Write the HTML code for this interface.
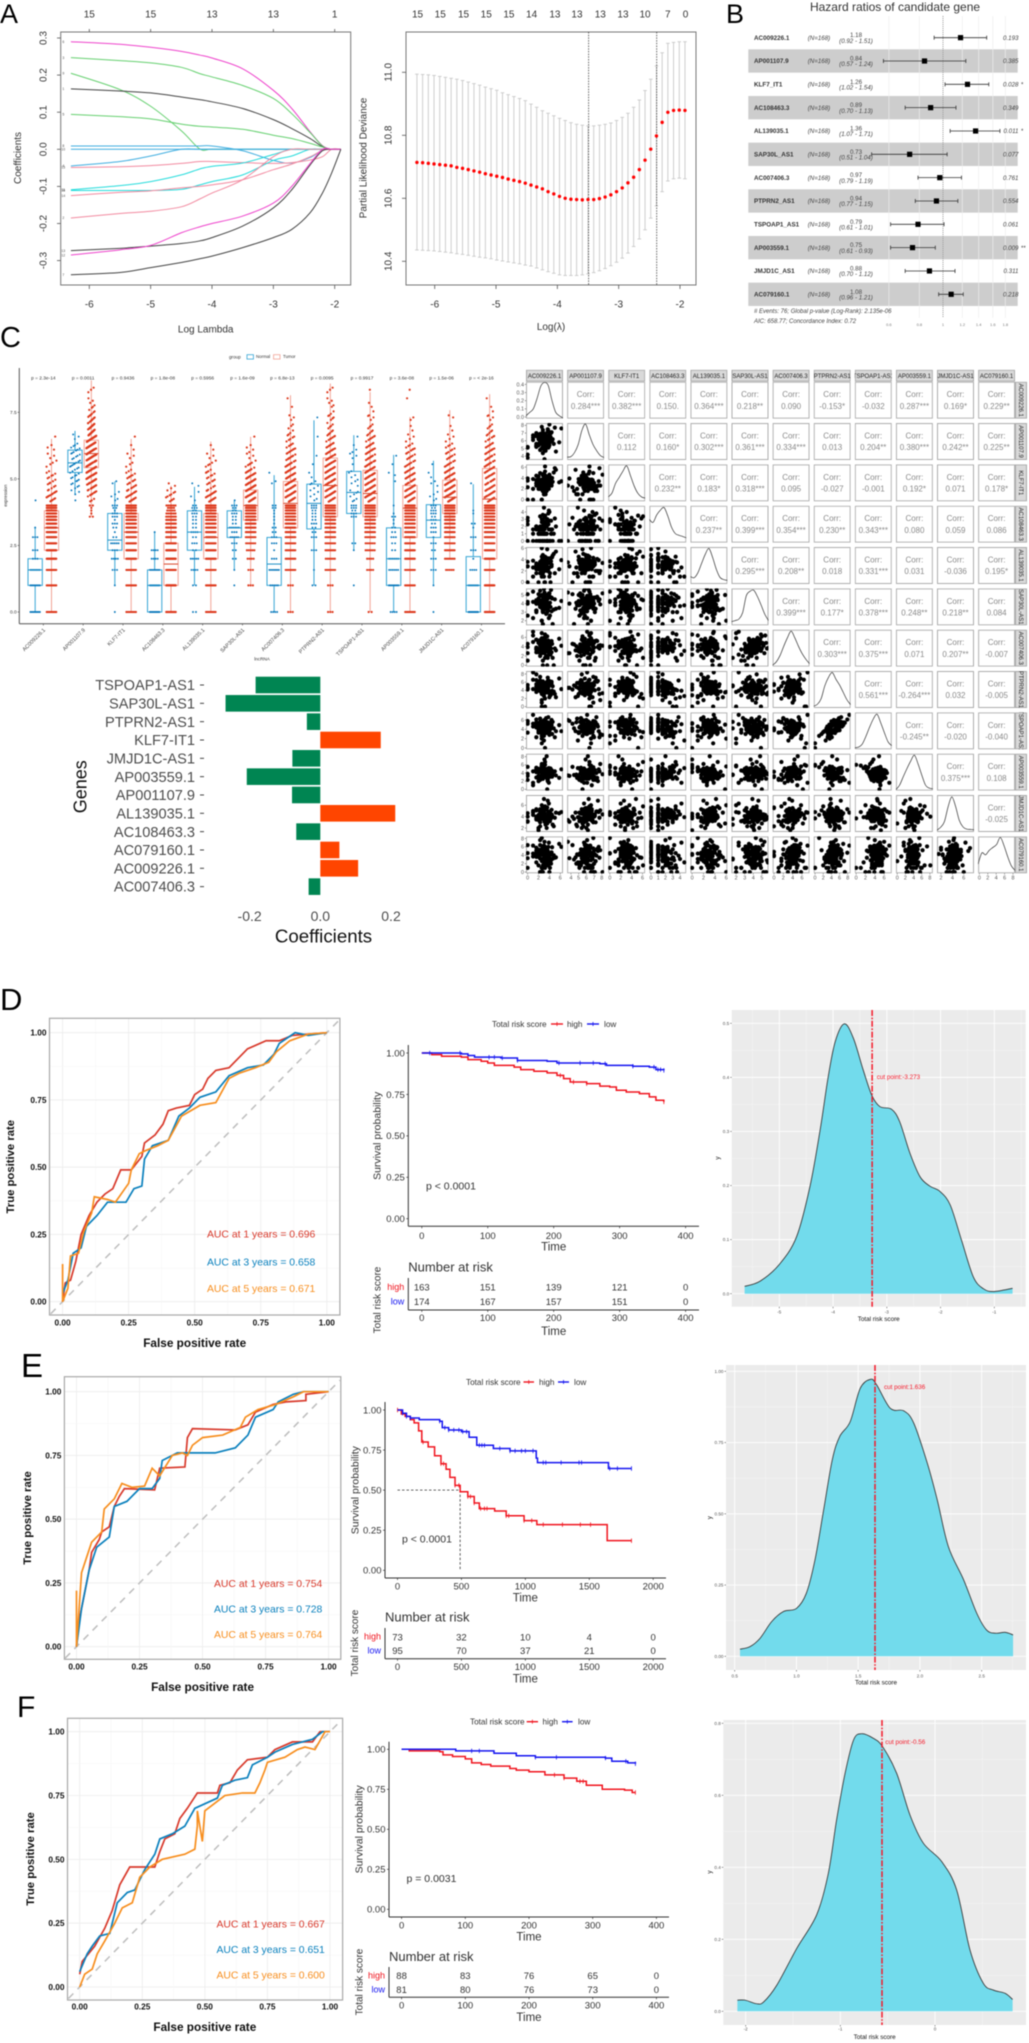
<!DOCTYPE html>
<html lang="en">
<head>
<meta charset="utf-8">
<title>Multi-panel lncRNA risk model figure</title>
<style>
html,body{margin:0;padding:0;background:#fff}
#figure{display:block;filter:blur(.45px);font-family:"Liberation Sans",sans-serif}
</style>
</head>
<body>
<svg id="figure" width="1029" height="2043" viewBox="0 0 1029 2043"></svg>
<script>
/* ---------- Panel A: lasso paths ---------- */
const lassoLambda=[-6.3,-5.5,-5,-4.5,-4.2,-4,-3.5,-3,-2.7,-2.4,-2.2,-2.05,-1.9];
const lassoIds=['6','3','9','1','5','8','10','4','15','11','16','14','2','13','12','7'];
const lassoColors=['#ee44cc','#66d070','#66d070','#444','#66d070','#40aee0','#40aee0','#40aee0','#f28aa0','#25dcdc','#25dcdc','#f28aa0','#f28aa0','#444','#ee44cc','#444'];
const lassoCoefs=[
[.29,.283,.275,.264,.254,.246,.217,.159,.11,.047,.01,0,0],
[.247,.239,.233,.221,.204,.195,.172,.137,.096,.045,.009,0,0],
[.205,.161,.116,.05,.001,0,0,0,0,0,0,0,0],
[.163,.157,.152,.141,.134,.128,.11,.08,.056,.029,.007,0,0],
[.094,.088,.082,.068,.062,.06,.054,.038,.029,.016,.006,0,0],
[.009,.009,.009,.009,.009,.009,-.004,-.03,-.037,-.022,-.002,0,0],
[0,0,0,0,0,0,0,0,0,0,0,0,0],
[-.045,-.033,-.018,0,0,0,0,0,0,0,0,0,0],
[-.049,-.047,-.044,-.038,-.033,-.033,-.036,-.038,-.036,-.029,-.02,0,0],
[-.109,-.098,-.087,-.069,-.053,-.046,-.037,-.014,0,0,0,0,0],
[-.111,-.111,-.111,-.108,-.096,-.087,-.069,-.03,-.018,0,0,0,0],
[-.125,-.116,-.112,-.104,-.1,-.096,-.082,-.055,-.04,-.02,-.003,0,0],
[-.185,-.173,-.167,-.155,-.134,-.118,-.082,-.02,0,0,0,0,0],
[-.273,-.267,-.261,-.254,-.247,-.238,-.207,-.158,-.109,-.042,-.004,0,0],
[-.285,-.271,-.259,-.225,-.209,-.2,-.18,-.145,-.1,-.038,0,0,0],
[-.338,-.332,-.319,-.305,-.295,-.288,-.265,-.238,-.216,-.171,-.118,-.064,0]];
const lassoTopLambda=[-6,-5,-4,-3,-2];
const lassoTopCounts=['15','15','13','13','1'];
const lassoXTicks=[-6,-5,-4,-3,-2];
const lassoYTicks=[-.3,-.2,-.1,0,.1,.2,.3];

/* ---------- Panel A: cross-validation ---------- */
const cvStart=-6.29, cvStep=0.093;
const cvMean=[10.714,10.713,10.711,10.709,10.707,10.705,10.703,10.698,10.695,10.691,10.687,10.683,10.678,10.674,10.670,10.666,10.661,10.657,10.653,10.648,10.642,10.636,10.630,10.621,10.614,10.606,10.600,10.597,10.596,10.595,10.596,10.596,10.599,10.604,10.611,10.621,10.633,10.649,10.667,10.691,10.721,10.756,10.798,10.841,10.873,10.879,10.880,10.879];
const cvUpper=[10.994,10.993,10.992,10.990,10.987,10.984,10.981,10.978,10.974,10.969,10.964,10.959,10.953,10.948,10.943,10.935,10.929,10.923,10.917,10.910,10.899,10.889,10.878,10.870,10.862,10.854,10.847,10.840,10.835,10.832,10.830,10.830,10.832,10.835,10.839,10.847,10.857,10.870,10.889,10.912,10.942,10.978,11.020,11.062,11.092,11.095,11.097,11.097];
const cvLower=[10.436,10.435,10.434,10.433,10.431,10.429,10.427,10.424,10.422,10.419,10.416,10.413,10.411,10.408,10.404,10.401,10.398,10.395,10.392,10.388,10.385,10.379,10.373,10.367,10.362,10.357,10.355,10.355,10.355,10.357,10.360,10.364,10.370,10.377,10.386,10.397,10.410,10.426,10.447,10.471,10.500,10.537,10.576,10.621,10.655,10.662,10.664,10.662];
const cvTopLambda=[-6.28,-5.91,-5.53,-5.16,-4.79,-4.42,-4.04,-3.68,-3.3,-2.93,-2.57,-2.2,-1.91];
const cvTopCounts=['15','15','15','15','15','14','13','13','13','13','10','7','0'];
const cvVLines=[-3.49,-2.38];
const cvXTicks=[-6,-5,-4,-3,-2];
const cvYTicks=[10.4,10.6,10.8,11.0];

/* ---------- Panel B: forest plot ---------- */
const forestGenes=['AC009226.1','AP001107.9','KLF7_IT1','AC108463.3','AL139035.1','SAP30L_AS1','AC007406.3','PTPRN2_AS1','TSPOAP1_AS1','AP003559.1','JMJD1C_AS1','AC079160.1'];
const forestHR=[1.18,0.84,1.26,0.89,1.36,0.73,0.97,0.94,0.79,0.75,0.88,1.08];
const forestLo=[0.92,0.57,1.02,0.70,1.07,0.51,0.79,0.77,0.61,0.61,0.70,0.96];
const forestHi=[1.51,1.24,1.54,1.13,1.71,1.04,1.19,1.15,1.01,0.93,1.12,1.21];
const forestP=['0.193','0.385','0.028','0.349','0.011','0.077','0.761','0.554','0.061','0.009','0.311','0.218'];
const forestSig=['','','*','','*','','','','','**','',''];
const forestTicks=[0.6,0.8,1,1.2,1.4,1.6,1.8];

/* ---------- Panel C: boxplots ---------- */
const boxGenes=['AC009226.1','AP001107.9','KLF7-IT1','AC108463.3','AL139035.1','SAP30L-AS1','AC007406.3','PTPRN2-AS1','TSPOAP1-AS1','AP003559.1','JMJD1C-AS1','AC079160.1'];
const boxPValues=['p = 2.3e-14','p = 0.0011','p = 0.9436','p = 1.8e-08','p = 0.5956','p = 1.6e-09','p = 6.8e-13','p = 0.0095','p = 0.9917','p = 3.6e-08','p = 1.5e-06','p = < 2e-16'];
const boxYTicks=[0,2.5,5,7.5];
const normalStats=[[0,1,1.58,2,3.2],[4.4,5.24,5.6,6.08,6.8],[1,2.32,2.7,3.7,4.9],[0,0,1,1.58,3],[1,2.32,3,3.8,4.7],[1.58,2.8,3.16,3.8,4.17],[0,1,1.8,2.8,5.14],[1,3.12,4.08,4.8,7.2],[2.33,3.7,4.49,5.28,6.64],[0,1,2,3.16,5.9],[1,2.8,3.45,4.03,5.68],[0,0,1,2.08,4.8]];
const tumorStats=[[0,2.32,3.16,3.8,6.5],[3.6,5.42,5.95,6.45,8.7],[0,2,3,3.7,6.5],[0,1,1.8,2.58,4.74],[0,2,2.8,3.7,6.4],[1,3.45,4,4.58,6.58],[0,3.16,4.08,4.9,8.14],[0,3.58,4.75,5.78,8.58],[0,3.58,4.45,5.32,8.26],[0,2.8,3.9,4.75,7.32],[2,3.7,4.31,4.95,7.58],[0,2,4.24,5.39,8.18]];
const exprLevels=[0,1,1.58,2,2.32,2.58,2.81,3,3.17,3.32,3.46,3.58,3.7,3.81,3.91,4,4.25,4.5,4.75,5,5.25,5.5,5.75,6,6.25,6.5,6.75,7,7.25,7.5,7.75,8,8.25,8.5];
const normalCounts=[
[8,8,8,3,3,0,3,0,1,0,0,0,0,0,0,0,1],
[0,0,0,0,0,0,0,0,0,0,0,0,0,0,0,0,1,3,5,6,5,8,6,6,5,2,1],
[1,1,3,4,3,5,2,1,2,3,1,3,3,1,2,3,3,2,1,1],
[10,10,8,4,4,0,0,1],
[2,2,4,5,2,3,2,4,2,2,2,2,3,2,3,2,2,1,2],
[0,1,1,2,2,3,5,3,6,2,2,2,3,2,2,3,1],
[4,5,7,3,1,3,3,2,2,1,1,1,1,1,2,2,0,0,1,1,1],
[0,2,1,0,3,0,3,2,2,3,2,2,2,2,3,3,3,3,4,2,1,1,1,0,0,1,0,0,1],
[0,1,0,0,1,2,0,0,0,0,0,3,3,2,3,3,4,4,2,3,3,1,2,3,1,1],
[4,8,6,6,2,2,3,2,2,1,1,2,1,0,0,1,0,0,0,1,2,1,1],
[1,1,3,3,2,3,1,3,3,2,3,2,3,3,2,3,3,2,2,2,1,1],
[12,8,4,1,3,0,3,0,1,2,0,0,1,1,0,0,0,0,1]];
const tumorCounts=[
[10,9,14,14,16,16,16,16,16,16,16,16,15,14,12,12,10,9,6,5,4,3,3,2,2,1],
[0,0,0,0,0,0,0,0,0,0,0,2,1,1,1,2,4,10,16,22,24,30,34,38,34,28,22,16,10,6,4,2,2,1],
[7,9,10,12,14,14,14,14,14,14,14,14,14,13,12,12,14,11,8,7,5,3,2,2,1,1],
[18,22,20,18,18,14,12,12,12,10,10,8,6,5,4,6,6,5,3],
[9,10,10,12,14,14,14,14,14,14,14,14,14,12,10,12,14,12,6,6,6,4,3,2,1],
[0,3,3,4,5,6,8,10,10,12,14,14,14,14,14,14,24,30,24,18,12,6,3,3,2,1],
[3,3,8,8,8,9,10,12,12,12,12,12,12,12,12,14,20,22,20,18,16,12,10,8,6,5,4,3,2,1,1,1],
[3,3,7,6,8,8,9,9,9,9,9,9,9,9,9,10,16,20,24,22,20,16,15,12,9,7,6,5,4,3,3,2,2,1],
[2,0,4,4,6,6,8,9,9,9,10,10,10,10,10,12,20,24,24,22,20,16,12,11,9,7,5,4,3,2,2,0,1],
[10,8,8,10,11,12,12,12,12,12,12,12,12,12,12,14,18,20,16,14,12,8,7,7,5,3,2,1,2,0,0,1,1],
[0,0,5,7,8,8,9,11,11,11,12,12,12,12,12,16,26,30,26,20,14,9,7,6,5,3,2,1,1,1],
[20,18,16,14,12,12,12,12,12,12,12,12,12,12,12,14,16,14,14,12,12,12,10,10,8,6,5,4,3,2,1,1]];

/* ---------- Panel C: coefficient bars ---------- */
const coefGenes=['TSPOAP1-AS1','SAP30L-AS1','PTPRN2-AS1','KLF7-IT1','JMJD1C-AS1','AP003559.1','AP001107.9','AL139035.1','AC108463.3','AC079160.1','AC009226.1','AC007406.3'];
const coefValues=[-.183,-.268,-.038,.171,-.079,-.208,-.08,.212,-.068,.054,.107,-.033];
const coefTicks=[-.2,0,.2];

/* ---------- Panel C: pairs matrix ---------- */
const pairsGenes=['AC009226.1','AP001107.9','KLF7-IT1','AC108463.3','AL139035.1','SAP30L-AS1','AC007406.3','PTPRN2-AS1','TSPOAP1-AS1','AP003559.1','JMJD1C-AS1','AC079160.1'];
const pairsRange=[[-.3,6.5],[3.5,8.3],[-.3,6.5],[-.23,4.87],[-.3,6.2],[1.46,5.78],[-.29,7.64],[-.33,8.73],[-.29,7.64],[-.33,8.73],[1.3,7.8],[-.3,8.5]];
const pairsTicks=[[0,2,4,6],[4,5,6,7,8],[0,2,4,6],[0,1,2,3,4],[0,2,4,6],[2,3,4,5],[0,2,4,6],[0,2,4,6,8],[0,2,4,6],[0,2,4,6,8],[2,4,6],[0,2,4,6,8]];
const densityAxisTicks=[0,.1,.2,.3,.4];
const pairsDensity=[
[.08,.17,.27,.55,.88,.98,.9,.5,.18,.08,.02],
[.08,.09,.2,.42,.8,.97,.68,.42,.25,.12,.07],
[.12,.22,.49,.65,.82,.96,.7,.42,.22,.12,.09],
[.63,.55,.75,.88,.95,.72,.42,.25,.2,.17,.13],
[.2,.17,.3,.55,.8,.96,.72,.4,.18,.12,.1],
[.1,.13,.17,.34,.8,.92,.95,.78,.55,.3,.13],
[.04,.13,.3,.55,.78,.96,.78,.55,.35,.2,.08],
[.05,.1,.25,.6,.83,.96,.78,.62,.42,.22,.09],
[.04,.06,.14,.35,.6,.82,.95,.72,.45,.2,.1],
[.03,.15,.38,.6,.8,.96,.72,.42,.15,.07,.05],
[.05,.13,.28,.68,.95,.7,.32,.14,.08,.07,.06],
[.25,.55,.5,.62,.7,.78,.97,.75,.45,.2,.08]];
const pairsCorr=[
['0.284***','0.382***','0.150.','0.364***','0.218**','0.090','-0.153*','-0.032','0.287***','0.169*','0.229**'],
['0.112','0.160*','0.302***','0.361***','0.334***','0.013','0.204**','0.380***','0.242**','0.225**'],
['0.232**','0.183*','0.318***','0.095','-0.027','-0.001','0.192*','0.071','0.178*'],
['0.237**','0.399***','0.354***','0.230**','0.343***','0.080','0.059','0.086'],
['0.295***','0.208**','0.018','0.331***','0.031','-0.036','0.195*'],
['0.399***','0.177*','0.378***','0.248**','0.218**','0.084'],
['0.303***','0.375***','0.071','0.207**','-0.007'],
['0.561***','-0.264***','0.032','-0.005'],
['-0.245**','-0.020','-0.040'],
['0.375***','0.108'],
['-0.025']];
const pairsSamples=[
[3.2,1.6,2.8,4.1,3.6,0,2.3,3.0,4.6,2.6,3.3,1,3.9,2.0,5.2,3.5,2.8,1.6,4.3,3.1,0,2.6,3.7,4.8,2.3,3.0,1,3.4,4.0,2.0,5.8,3.2,2.8,1.6,3.6,4.4,2.6,0,3.8,3.0,2.3,4.2,3.3,1,5.0,2.8,3.5,2.0,4.0,3.1,2.6,0,3.7,4.5,1.6,3.2,2.3,6.2,3.0,2.8,
 3.0,2.6,3.4,2.3,3.8,2.8,3.2,2.0,3.6,4.1,2.6,3.0,3.3,2.3,4.3,2.8,3.5,1.6,3.1,3.9,2.6,3.2,2.0,3.7,3.0,2.8,4.0,2.3,3.4,2.6,3.1,3.8,2.0,3.3,2.8,4.4,3.0,2.6,3.6,2.3,3.2,1.6,3.5,2.8,3.0],
[6.1,5.2,7.4,5.8,6.5,4.2,6.9,5.5,6.2,7.8,5.0,6.4,5.7,6.8,4.6,6.0,7.1,5.4,6.3,5.9,3.8,6.6,7.5,5.6,6.1,4.9,6.7,5.3,8.1,6.2,5.8,6.4,4.4,7.0,5.5,6.0,6.9,5.1,7.3,6.3,5.7,6.5,4.7,6.1,7.7,5.9,6.2,5.4,6.8,3.6,6.6,5.2,7.2,6.0,5.6,6.4,4.8,7.6,5.8,6.3,
 6.2,5.6,6.7,5.9,6.0,5.3,6.4,6.8,5.7,6.1,5.0,6.5,5.8,6.3,7.0,5.5,6.0,6.6,5.9,5.2,6.2,6.9,5.6,6.3,5.8,6.1,5.4,6.7,6.0,6.4,5.7,5.1,6.5,6.2,5.9,7.1,5.5,6.3,6.0,5.8,6.6,5.3,6.1,6.8,5.7],
[2.8,3.5,1.6,4.2,3.0,2.3,4.9,1,3.3,2.6,3.8,0,2.0,3.6,5.5,2.8,1.6,4.4,3.1,2.3,3.9,0,2.6,5.0,3.4,1,2.0,3.7,4.6,2.8,3.2,6.1,1.6,2.6,4.1,3.0,0,3.5,2.3,4.8,2.0,3.3,1,3.8,5.8,2.8,1.6,4.3,3.1,2.6,3.6,0,2.3,4.0,3.0,5.2,2.0,3.4,1.6,2.8,
 3.3,2.3,3.7,2.8,4.1,3.0,2.6,3.5,2.0,3.9,3.2,2.8,4.4,2.3,3.1,3.6,2.6,3.0,4.0,2.8,3.4,2.0,3.8,3.1,2.6,3.3,4.2,2.3,3.0,3.7,2.8,3.5,2.0,3.2,4.5,2.6,3.9,3.0,2.3,3.4,2.8,3.6,3.1,2.6,4.0],
[1,0,2,1.6,0,3.2,1,2.3,0,1.6,2.6,0,4.2,1,2,0,3.6,1.6,1,0,2.3,3,0,1,2,4.6,1.6,0,2.8,1,0,3.4,1.6,2,0,1,2.6,0,3.8,1,1.6,0,2.3,1,3.1,0,2,1.6,4,0,1,2.8,0,1.6,2,3.5,1,0,2.3,1.6,
 1,1.6,2,0,2.3,1,2.6,1.6,3,0,2,1,2.3,1.6,2.8,0,1,2,3.2,1.6,0,2.3,1,2.6,2,1.6,0,3.4,1,2,1.6,2.3,0,1,2.8,1.6,2,1,3,0,2.3,1.6,1,2.6,2],
[3.0,2.3,4.1,1.6,3.6,0,2.8,3.3,4.7,2,3.9,1,2.6,3.1,5.4,2.3,3.5,1.6,4.3,0,2.8,3.7,2,5.0,3.2,1,2.6,4.0,3.4,0,2.3,4.5,1.6,3.0,5.8,2.8,1,3.6,2,4.2,3.3,0,2.6,3.8,1.6,4.8,3.1,2.3,1,3.5,6.0,2.8,2,4.4,3.0,0,1.6,3.9,2.6,3.2,
 2.8,3.6,2.3,3.2,4.2,2.6,3.9,3.0,2,3.4,4.5,2.8,3.1,2.3,3.7,4.0,2.6,3.3,2,3.5,2.8,4.3,3.0,2.3,3.8,3.2,2.6,3.6,4.1,2.8,2,3.4,3.0,4.4,2.6,3.1,2.3,3.9,3.3,2.8,3.7,2.6,4.0,3.0,2.3],
[4.2,3.2,4.8,2.6,4.0,5.1,3.6,4.5,1.6,3.9,4.3,5.4,2.3,4.1,3.4,4.7,3.0,4.4,5.6,3.7,4.0,2,4.6,3.3,4.9,3.8,4.2,2.8,5.2,4.1,3.5,4.4,1.6,4.0,5.0,3.1,4.3,2.6,4.7,3.9,5.5,3.6,4.1,2.3,4.5,3.2,4.8,4.0,3.7,5.3,2,4.2,3.4,4.6,3.0,4.9,3.8,4.3,5.7,3.5,
 4.0,3.5,4.6,4.2,3.2,4.8,3.8,4.4,3.0,4.1,5.0,3.6,4.3,3.9,4.7,3.3,4.5,4.0,3.7,5.2,4.2,3.4,4.6,3.9,4.1,3.1,4.9,4.3,3.6,4.0,4.5,3.8,5.1,3.5,4.2,4.7,3.3,4.4,4.0,3.7,4.8,3.2,4.3,3.9,4.6],
[4.1,2.8,5.2,3.4,0,4.6,3.0,5.9,1.6,4.3,3.7,6.4,2.3,4.9,3.2,4.0,1,5.5,3.6,4.4,2.6,6.9,3.9,0,4.7,3.1,5.0,2,4.2,3.5,5.7,1.6,4.5,3.8,6.2,2.8,4.0,1,5.3,3.3,4.8,2.3,4.1,7.2,3.6,0,5.1,3.0,4.3,2.6,5.8,3.9,1.6,4.6,3.4,6.6,2,4.2,3.7,5.4,
 3.8,4.4,3.2,4.9,4.1,3.5,5.3,2.8,4.6,4.0,3.6,5.0,3.3,4.3,4.8,3.0,4.2,5.5,3.7,4.5,2.6,4.0,5.1,3.4,4.7,3.9,3.1,5.4,4.2,3.6,4.4,2.9,4.8,4.1,3.3,5.2,3.8,4.6,3.0,4.3,5.6,3.5,4.0,4.9,3.7],
[4.8,3.6,6.1,2.8,5.3,4.2,7.3,3.2,5.0,1.6,4.5,6.6,3.9,5.6,2.3,4.9,4.0,7.9,3.0,5.4,4.6,0,6.3,3.7,5.1,2.6,4.3,5.9,3.3,4.7,6.9,2,5.2,4.1,3.5,5.7,1,4.4,6.4,3.8,5.0,2.8,4.8,8.4,3.1,5.5,4.2,6.0,2.3,4.6,3.6,5.3,7.1,3.9,4.9,0,5.8,4.3,3.4,5.1,
 5.0,4.3,5.6,3.8,4.7,6.2,3.4,5.2,4.5,5.8,3.1,4.9,4.1,6.4,5.3,3.6,4.6,5.5,4.0,6.0,3.3,5.1,4.4,5.7,4.8,3.7,6.3,4.2,5.4,3.5,4.7,5.9,4.0,5.2,3.2,6.1,4.5,5.0,3.9,5.6,4.3,6.5,3.6,4.9,5.3],
[4.0,4.4,5.0,3.9,3.8,5.2,5.4,2.6,5.6,3.0,3.4,4.6,5.1,4.0,3.6,3.2,5.7,6.1,4.6,3.7,5.8,1.0,4.6,4.2,4.0,1.6,5.2,6.4,2.8,5.3,4.9,3.4,4.2,2.3,5.0,6.0,2.6,3.3,6.6,4.5,3.9,4.2,5.5,7.1,2.3,4.1,4.9,3.8,3.6,6.0,2.0,5.6,5.5,3.0,5.5,0,6.3,3.6,4.4,4.3,
 4.8,3.4,5.0,4.2,3.9,5.5,3.8,4.3,4.9,5.2,3.2,3.9,4.7,5.6,4.2,4.4,3.6,5.3,3.1,4.6,4.0,5.8,3.7,4.5,5.1,3.0,5.4,4.8,4.1,3.9,5.0,4.4,3.3,5.7,3.7,4.9,5.2,4.0,3.5,4.6,5.3,4.7,4.2,3.4,5.9],
[3.8,4.9,2.8,4.6,3.2,5.5,2.3,4.1,3.6,6.2,3.0,4.4,1.6,5.0,3.4,4.0,2.6,4.7,3.9,7.3,3.3,5.8,2.0,4.3,3.1,5.2,1,4.5,3.7,4.2,2.8,6.7,3.5,4.8,0,3.9,5.4,2.3,4.0,3.2,2.6,5.1,3.6,1.6,4.4,3.0,8.1,2.0,4.6,3.4,5.6,3.8,2.3,3.1,4.2,6.0,2.8,4.9,3.7,2.6,
 3.5,4.2,3.0,4.7,3.8,2.8,4.4,3.3,5.0,3.9,2.6,4.1,3.6,4.8,3.1,4.5,3.7,2.9,4.3,5.2,3.4,4.0,2.7,4.6,3.2,3.8,4.9,3.0,4.2,3.6,5.1,2.8,4.4,3.9,3.3,4.7,3.5,4.1,2.6,4.5,3.7,5.3,3.1,4.0,3.4],
[4.2,3.5,4.9,3.2,5.6,4.0,3.0,4.6,2.6,5.1,3.8,4.3,6.3,3.4,4.7,2.0,4.1,5.3,3.7,4.5,3.1,4.8,6.8,2.3,4.2,3.9,5.0,3.3,4.4,1.6,4.6,5.8,3.6,4.0,2.8,5.2,4.3,3.2,4.9,7.1,3.5,4.1,2.6,4.7,3.8,5.5,4.0,2.0,4.4,3.4,6.0,4.6,3.0,4.2,5.1,3.7,2.3,4.8,3.9,4.5,
 3.8,4.5,3.3,4.9,4.1,3.6,5.2,4.3,3.0,4.7,3.9,4.4,5.4,3.5,4.2,4.8,3.2,4.0,4.6,3.7,5.0,4.3,3.4,4.1,4.9,3.6,4.5,5.3,3.9,4.2,3.1,4.7,4.0,3.8,5.1,4.4,3.5,4.6,3.3,4.8,4.1,3.7,5.5,4.2,3.9],
[4.2,2.3,5.5,1,3.8,6.4,0,4.9,3.2,5.2,2,4.4,7.0,1.6,3.5,5.8,0,4.6,2.8,6.1,3.3,1,5.0,4.0,7.6,2.3,3.7,5.4,0,4.3,6.7,1.6,3.0,5.1,2.6,4.7,8.1,1,3.9,5.7,0,4.1,2.0,6.3,3.4,4.8,1.6,5.3,3.1,7.2,0,4.5,2.6,5.9,3.6,1,4.2,6.0,2.3,5.0,
 5.0,2.6,4.4,3.2,6.0,1.6,4.8,3.6,5.4,2.3,4.1,6.3,3.0,5.2,2,4.6,3.4,5.8,2.8,4.3,1,5.6,3.8,4.9,2.6,6.1,3.3,4.5,2.0,5.1,3.7,1.6,4.7,5.9,3.1,4.2,2.3,5.5,3.5,6.4,2.8,4.0,5.3,1,4.4]];

/* ---------- Panels D/E/F: ROC (fpr, tpr) ---------- */
const rocTicks=[0,.25,.5,.75,1];
const rocLabels=['0.00','0.25','0.50','0.75','1.00'];
const rocD1=[[0,0],[.01,.07],[.03,.08],[.05,.15],[.07,.25],[.1,.32],[.13,.37],[.16,.40],[.19,.42],[.22,.49],[.26,.49],[.3,.54],[.31,.59],[.35,.62],[.38,.66],[.4,.71],[.43,.72],[.48,.73],[.5,.77],[.53,.79],[.55,.83],[.58,.86],[.63,.87],[.67,.91],[.7,.94],[.77,.97],[.82,.97],[.87,.99],[1,1]];
const rocD3=[[0,.03],[.02,.08],[.04,.18],[.07,.2],[.09,.28],[.13,.32],[.17,.37],[.24,.37],[.27,.42],[.3,.43],[.31,.53],[.34,.58],[.4,.6],[.44,.69],[.48,.72],[.52,.76],[.58,.78],[.63,.84],[.7,.87],[.76,.88],[.8,.92],[.82,.96],[.88,1],[.93,.99],[1,1]];
const rocD5=[[0,.14],[0,0],[.02,.05],[.03,.17],[.06,.18],[.08,.26],[.11,.33],[.12,.39],[.17,.38],[.2,.37],[.25,.44],[.26,.49],[.29,.55],[.31,.56],[.36,.58],[.4,.6],[.45,.69],[.52,.73],[.58,.74],[.63,.83],[.67,.85],[.73,.87],[.78,.89],[.81,.93],[.86,.97],[.93,.995],[1,1]];
const rocE1=[[0,0],[.01,.1],[.03,.2],[.05,.3],[.06,.37],[.09,.42],[.1,.45],[.13,.47],[.15,.55],[.17,.59],[.19,.62],[.31,.615],[.33,.7],[.43,.705],[.44,.82],[.46,.855],[.63,.85],[.68,.87],[.71,.92],[.78,.95],[.83,.96],[.91,.965],[.91,.99],[1,1]];
const rocE3=[[0,0],[.02,.15],[.05,.3],[.08,.39],[.13,.43],[.15,.55],[.2,.57],[.25,.62],[.3,.62],[.33,.66],[.34,.73],[.4,.76],[.5,.76],[.55,.76],[.63,.78],[.68,.83],[.71,.9],[.78,.93],[.8,.96],[.86,.99],[.9,1],[1,1]];
const rocE5=[[0,.22],[0,0],[.02,.29],[.04,.35],[.06,.41],[.1,.45],[.11,.54],[.15,.58],[.18,.64],[.22,.625],[.27,.63],[.3,.7],[.33,.67],[.38,.75],[.42,.76],[.44,.75],[.46,.79],[.5,.82],[.58,.83],[.65,.86],[.67,.9],[.72,.93],[.79,.95],[.86,.98],[.9,1],[1,1]];
const rocF1=[[0,.05],[.01,.1],[.06,.16],[.1,.23],[.13,.3],[.16,.4],[.2,.47],[.3,.47],[.32,.53],[.34,.58],[.38,.6],[.4,.66],[.43,.7],[.47,.76],[.55,.76],[.56,.79],[.6,.8],[.63,.85],[.67,.89],[.75,.9],[.78,.93],[.85,.96],[.93,.96],[.96,1],[1,1]];
const rocF3=[[0,.06],[.03,.13],[.05,.16],[.08,.2],[.12,.21],[.15,.33],[.19,.37],[.22,.38],[.26,.46],[.3,.52],[.32,.58],[.37,.6],[.42,.63],[.46,.7],[.55,.74],[.57,.79],[.62,.81],[.67,.82],[.69,.87],[.75,.9],[.78,.92],[.85,.95],[.93,.97],[.97,1],[1,1]];
const rocF5=[[0,0],[.02,.05],[.05,.07],[.07,.13],[.1,.18],[.14,.25],[.17,.31],[.21,.33],[.24,.43],[.28,.47],[.33,.5],[.42,.52],[.46,.54],[.47,.63],[.47,.69],[.49,.57],[.5,.69],[.54,.72],[.58,.75],[.65,.76],[.7,.76],[.72,.8],[.74,.85],[.75,.88],[.82,.9],[.87,.93],[.9,.94],[.94,.93],[.98,1],[1,1]];

/* ---------- Panels D/E/F: Kaplan-Meier (time, survival) ---------- */
const kmSurvTicks=[0,.25,.5,.75,1];
const kmSurvLabels=['0.00','0.25','0.50','0.75','1.00'];
const kmDTimes=[0,100,200,300,400];
const kmDHigh=[[0,1],[15,.99],[30,.98],[60,.975],[70,.96],[90,.95],[100,.94],[110,.925],[140,.915],[150,.90],[170,.89],[190,.88],[205,.865],[215,.845],[225,.825],[250,.815],[270,.80],[285,.795],[295,.775],[310,.765],[330,.755],[345,.735],[355,.715],[367,.705]];
const kmDLow=[[0,1],[60,.995],[70,.985],[80,.975],[120,.97],[145,.955],[190,.95],[205,.94],[270,.935],[280,.925],[320,.92],[345,.915],[355,.90],[367,.895]];
const kmDHighCens=[210,230,250,367];
const kmDLowCens=[12,58,102,110,122,145,208,240,260,278,320,352,358,362,367];
const kmDRiskHigh=['163','151','139','121','0'];
const kmDRiskLow=['174','167','157','151','0'];
const kmETimes=[0,500,1000,1500,2000];
const kmEHigh=[[0,1],[30,.975],[60,.96],[100,.94],[130,.92],[165,.87],[190,.80],[240,.77],[290,.715],[340,.665],[380,.63],[410,.58],[450,.53],[490,.49],[550,.46],[600,.42],[640,.385],[760,.37],[850,.34],[990,.31],[1090,.285],[1640,.185],[1830,.185]];
const kmELow=[[0,1],[40,.98],[70,.96],[100,.95],[170,.94],[330,.93],[350,.89],[400,.875],[500,.865],[560,.83],[620,.78],[750,.76],[880,.745],[1085,.70],[1095,.672],[1650,.635],[1830,.635]];
const kmEHighCens=[0,200,340,360,450,480,550,570,600,650,680,700,850,870,990,1050,1140,1290,1430,1510,1830];
const kmELowCens=[40,70,100,330,370,400,440,480,510,540,640,660,680,800,880,920,970,1000,1060,1140,1160,1280,1420,1440,1660,1720,1830];
const kmERiskHigh=['73','32','10','4','0'];
const kmERiskLow=['95','70','37','21','0'];
const kmEMedian=[490];
const kmFTimes=[0,100,200,300,400];
const kmFHigh=[[0,1],[12,.99],[60,.985],[65,.965],[80,.955],[100,.94],[110,.915],[125,.905],[140,.895],[170,.88],[180,.87],[200,.86],[225,.84],[255,.82],[275,.80],[290,.775],[315,.75],[350,.745],[362,.73],[367,.73]];
const kmFLow=[[0,1],[85,.99],[145,.975],[180,.96],[210,.95],[320,.945],[330,.925],[355,.915],[367,.91]];
const kmFHighCens=[240,255,280,285,367];
const kmFLowCens=[110,122,210,243,320,352,367];
const kmFRiskHigh=['88','83','76','65','0'];
const kmFRiskLow=['81','80','76','73','0'];

/* ---------- Panels D/E/F: risk score density (score, density) ---------- */
const densD=[[-5.645,.0136],[-5.36,.023],[-5,.054],[-4.68,.105],[-4.43,.198],[-4.24,.303],[-4.09,.401],[-3.96,.466],[-3.79,.499],[-3.62,.472],[-3.44,.414],[-3.28,.367],[-3.13,.346],[-2.91,.341],[-2.76,.318],[-2.57,.26],[-2.38,.216],[-2.2,.199],[-2.01,.189],[-1.82,.164],[-1.61,.099],[-1.39,.031],[-1.2,.009],[-1.01,.004],[-.66,.01]];
const densDXTicks=[-5,-4,-3,-2,-1];
const densDYTicks=[0,.1,.2,.3,.4,.5];
const densDYLabels=['0.0','0.1','0.2','0.3','0.4','0.5'];
const densDCut=[-3.273];
const densE=[[.543,.025],[.624,.034],[.705,.063],[.8,.122],[.895,.157],[1.0,.168],[1.08,.221],[1.15,.338],[1.22,.513],[1.29,.689],[1.35,.771],[1.435,.823],[1.516,.94],[1.6,.972],[1.65,.952],[1.76,.87],[1.87,.861],[1.95,.818],[2.06,.677],[2.14,.549],[2.23,.385],[2.354,.268],[2.46,.151],[2.54,.092],[2.61,.081],[2.69,.084],[2.754,.075]];
const densEXTicks=[.5,1,1.5,2,2.5];
const densEYTicks=[0,.25,.5,.75,1];
const densEYLabels=['0.00','0.25','0.50','0.75','1.00'];
const densECut=[1.636];
const densF=[[-2.088,.031],[-2.007,.031],[-1.884,.021],[-1.81,.026],[-1.67,.073],[-1.46,.175],[-1.25,.268],[-1.127,.383],[-1.04,.531],[-.95,.661],[-.86,.754],[-.775,.771],[-.65,.758],[-.553,.735],[-.405,.661],[-.264,.545],[-.123,.467],[.07,.416],[.229,.337],[.37,.17],[.51,.078],[.616,.059],[.74,.05],[.82,.033]];
const densFXTicks=[-2,-1,0];
const densFYTicks=[0,.2,.4,.6,.8];
const densFYLabels=['0.0','0.2','0.4','0.6','0.8'];
const densFCut=[-.56];

/* ---------- helpers ---------- */
const root=document.getElementById('figure');
const NS=root.namespaceURI;
function mk(parent,tag,attrs,name){
  const el=document.createElementNS(NS,tag);
  for(const k in attrs){el.setAttribute(k,attrs[k]);}
  
  
  parent.appendChild(el);
  return el;
}
function txt(parent,x,y,s,size,o,name){
  o=o||{};
  const a={x:x,y:y,dy:'.35em','font-size':size,fill:o.fill||'#333','text-anchor':o.anchor||'middle'};
  if(o.weight)a['font-weight']=o.weight;
  if(o.style)a['font-style']=o.style;
  if(o.rot!==undefined)a.transform='rotate('+o.rot+' '+x+' '+y+')';
  const el=mk(parent,'text',a,name);
  el.textContent=s;
  return el;
}
function ln(parent,x1,y1,x2,y2,stroke,w,name,dash){
  const a={x1:x1,y1:y1,x2:x2,y2:y2,stroke:stroke,'stroke-width':w};
  if(dash)a['stroke-dasharray']=dash;
  return mk(parent,'line',a,name);
}
function lin(d0,d1,r0,r1){return v=>r0+(v-d0)*(r1-r0)/(d1-d0);}
function smooth(p){
  let d='M'+p[0][0].toFixed(2)+' '+p[0][1].toFixed(2);
  for(let i=0;i<p.length-1;i++){
    const a=p[i-1]||p[i],b=p[i],c=p[i+1],e=p[i+2]||c;
    const c1x=b[0]+(c[0]-a[0])/6,c1y=b[1]+(c[1]-a[1])/6,c2x=c[0]-(e[0]-b[0])/6,c2y=c[1]-(e[1]-b[1])/6;
    d+='C'+c1x.toFixed(2)+' '+c1y.toFixed(2)+' '+c2x.toFixed(2)+' '+c2y.toFixed(2)+' '+c[0].toFixed(2)+' '+c[1].toFixed(2);
  }
  return d;
}
function poly(p){return p.map((q,i)=>(i?'L':'M')+q[0].toFixed(2)+' '+q[1].toFixed(2)).join('');}
function group(name,parent){return mk(parent||root,'g',{},name);}
function panelLetter(s,x,y,size){
  const el=mk(root,'text',{x:x,y:y,'font-size':size,fill:'#000'},'panel-label-'+s.toLowerCase());
  el.textContent=s;
}
panelLetter('A',0,23,27);
panelLetter('B',726,23,27);
panelLetter('C',0,347,29);
panelLetter('D',0,1010,31);
panelLetter('E',21,1377,33);
panelLetter('F',17,1717,30);

/* ---------- A left ---------- */
(function(){
  const g=group('lasso-coefficient-plot');
  const x=lin(-6,-2,89.3,334.7),y=lin(0,.3,149.3,38);
  mk(g,'rect',{x:60.7,y:32,width:290,height:253,fill:'#fff',stroke:'#777','stroke-width':1},'plot-frame');
  lassoCoefs.forEach((vals,i)=>{
    const pts=vals.map((v,j)=>[x(lassoLambda[j]),y(v)]);
    mk(g,'path',{d:smooth(pts),fill:'none',stroke:lassoColors[i],'stroke-width':1},'coefficient-path-'+lassoIds[i]);
    txt(g,63.3,pts[0][1],lassoIds[i],3.5,{fill:'#555'},'path-index-label');
  });
  lassoXTicks.forEach(t=>{
    ln(g,x(t),285,x(t),289,'#555',.8,'x-tick');
    txt(g,x(t),304,String(t),10,{},'x-tick-label');
  });
  lassoTopLambda.forEach((t,i)=>{
    ln(g,x(t),32,x(t),29,'#555',.8,'top-tick');
    txt(g,x(t),14,lassoTopCounts[i],10,{},'top-count-label');
  });
  lassoYTicks.forEach(t=>{
    ln(g,60.7,y(t),57,y(t),'#555',.8,'y-tick');
    txt(g,43,y(t),t.toFixed(1),10,{rot:-90},'y-tick-label');
  });
  txt(g,17.5,158,'Coefficients',10,{rot:-90},'y-axis-title');
  txt(g,205.7,329,'Log Lambda',10,{},'x-axis-title');
})();

/* ---------- A right ---------- */
(function(){
  const g=group('cross-validation-plot');
  const x=lin(-6,-2,434.7,680),y=lin(10.4,11,261.3,72.3);
  mk(g,'rect',{x:406,y:32,width:290,height:253,fill:'#fff',stroke:'#777','stroke-width':1},'plot-frame');
  cvMean.forEach((m,i)=>{
    const xv=x(cvStart+i*cvStep);
    ln(g,xv,y(cvUpper[i]),xv,y(cvLower[i]),'#c9c9c9',.9,'error-bar');
    ln(g,xv-1.8,y(cvUpper[i]),xv+1.8,y(cvUpper[i]),'#c9c9c9',.9,'error-cap-upper');
    ln(g,xv-1.8,y(cvLower[i]),xv+1.8,y(cvLower[i]),'#c9c9c9',.9,'error-cap-lower');
  });
  cvVLines.forEach(v=>ln(g,x(v),32,x(v),285,'#444',.8,'lambda-reference-line','1.5 1.2'));
  cvMean.forEach((m,i)=>{
    mk(g,'circle',{cx:x(cvStart+i*cvStep),cy:y(m),r:1.7,fill:'#f00'},'cv-mean-point');
  });
  cvXTicks.forEach(t=>{
    ln(g,x(t),285,x(t),289,'#555',.8,'x-tick');
    txt(g,x(t),304,String(t),10,{},'x-tick-label');
  });
  cvYTicks.forEach(t=>{
    ln(g,406,y(t),402,y(t),'#555',.8,'y-tick');
    txt(g,388,y(t),t.toFixed(1),10,{rot:-90},'y-tick-label');
  });
  cvTopLambda.forEach((t,i)=>txt(g,x(t),14,cvTopCounts[i],10,{},'top-count-label'));
  txt(g,363,158,'Partial Likelihood Deviance',10,{rot:-90},'y-axis-title');
  txt(g,551,326.7,'Log(\u03bb)',10,{},'x-axis-title');
})();

/* ---------- B forest ---------- */
(function(){
  const g=group('forest-plot');
  const x=v=>710+(699+318*Math.log(v))/3;
  const rowY=i=>37.67+23.33*i;
  txt(g,895,7,'Hazard ratios of candidate gene',12,{fill:'#333'},'forest-title');
  forestGenes.forEach((n,i)=>{
    if(i%2){mk(g,'rect',{x:748.3,y:rowY(i)-11.67,width:269.4,height:23.33,fill:'#cdcdcd'},'forest-row-stripe');}
  });
  forestTicks.forEach(t=>{
    ln(g,x(t),16,x(t),318,t===1?'#999':'#eee',t===1?1:.7,t===1?'reference-line':'forest-gridline',t===1?'1 1':null);
    txt(g,x(t),324.7,String(t),4,{fill:'#777'},'forest-tick-label');
  });
  forestGenes.forEach((n,i)=>{
    const y=rowY(i);
    txt(g,754,y,n,6.3,{anchor:'start',weight:'bold'},'forest-gene-name');
    txt(g,807.7,y,'(N=168)',6.2,{anchor:'start',style:'italic',fill:'#444'},'forest-sample-size');
    txt(g,856,y-2.7,forestHR[i].toFixed(2),6.2,{fill:'#444'},'forest-hazard-ratio');
    txt(g,856,y+3,'('+forestLo[i].toFixed(2)+' - '+forestHi[i].toFixed(2)+')',6.2,{style:'italic',fill:'#444'},'forest-confidence-interval');
    ln(g,x(forestLo[i]),y,x(forestHi[i]),y,'#333',.8,'forest-ci-line');
    ln(g,x(forestLo[i]),y-2,x(forestLo[i]),y+2,'#333',.8,'forest-ci-cap');
    ln(g,x(forestHi[i]),y-2,x(forestHi[i]),y+2,'#333',.8,'forest-ci-cap');
    mk(g,'rect',{x:x(forestHR[i])-2.6,y:y-2.6,width:5.2,height:5.2,fill:'#000'},'forest-estimate-box');
    txt(g,1018.5,y,forestP[i],6.2,{anchor:'end',style:'italic',fill:'#444'},'forest-p-value');
    if(forestSig[i]){txt(g,1021,y,forestSig[i],6.2,{anchor:'start',fill:'#444'},'forest-significance');}
  });
  txt(g,754,311,'# Events: 76; Global p-value (Log-Rank): 2.135e-06',6,{anchor:'start',style:'italic',fill:'#444'},'forest-footnote-events');
  txt(g,754,320.7,'AIC: 658.77; Concordance Index: 0.72',6,{anchor:'start',style:'italic',fill:'#444'},'forest-footnote-aic');
})();

/* ---------- C boxplots ---------- */
(function(){
  const g=group('expression-boxplot');
  const y=lin(0,7.5,612,412.3);
  const cx=i=>43.33+39.83*i;
  const groups=[
    {stats:normalStats,counts:normalCounts,off:-8.17,box:'#35a5d5',med:'#1c8fc6',dot:'#0a78bb',r:.95,name:'normal'},
    {stats:tumorStats,counts:tumorCounts,off:8.17,box:'#f2a396',med:'#d94428',dot:'#dd3a1e',r:1.1,name:'tumor'}];
  boxGenes.forEach((gene,i)=>{
    groups.forEach(b=>{
      const c=cx(i)+b.off,s=b.stats[i];
      ln(g,c,y(s[0]),c,y(s[1]),b.box,1,b.name+'-whisker-low');
      ln(g,c,y(s[3]),c,y(s[4]),b.box,1,b.name+'-whisker-high');
      mk(g,'rect',{x:c-7.15,y:y(s[3]),width:14.3,height:y(s[1])-y(s[3]),fill:'#fff','fill-opacity':.5,stroke:b.box,'stroke-width':1},b.name+'-box');
      const cts=b.counts[i];
      cts.forEach((n,li)=>{
        const lv=exprLevels[li];
        for(let k=0;k<n;k++){
          let dx,dy=0;
          if(lv<=4){
            const w=Math.min(9.5,n*1.5);
            dx=n>1?((k/(n-1))-.5)*w:0;
          }else{
            const f1=((k+1)*.618+li*.37)%1,f2=((k+1)*.382+li*.71)%1;
            dx=(f1-.5)*(lv>6.5?7:10);
            dy=(f2-.5)*6.4;
          }
          mk(g,'circle',{cx:c+dx,cy:y(lv)+dy,r:b.r,fill:b.dot},b.name+'-expression-point');
        }
      });
      ln(g,c-7.15,y(s[2]),c+7.15,y(s[2]),b.med,1,b.name+'-median');
    });
    txt(g,cx(i),378,boxPValues[i],4.8,{fill:'#333'},'p-value-label');
    ln(g,cx(i),623.7,cx(i),625.5,'#444',.6,'x-tick');
    const lx=cx(i)+1,ly=629;
    const t=mk(g,'text',{x:lx,y:ly,'font-size':5.4,fill:'#444','text-anchor':'end',dy:'.35em',transform:'rotate(-45 '+lx+' '+ly+')'},'x-tick-label');
    t.textContent=gene;
  });
  ln(g,19.3,368,19.3,623.7,'#555',1,'y-axis-line');
  ln(g,19.3,623.7,505,623.7,'#555',1,'x-axis-line');
  boxYTicks.forEach(t=>{
    ln(g,19.3,y(t),17.6,y(t),'#444',.6,'y-tick');
    txt(g,16.7,y(t),t.toFixed(1),4.8,{anchor:'end',fill:'#333'},'y-tick-label');
  });
  txt(g,5.3,495.7,'expression',4.6,{rot:-90,fill:'#333'},'y-axis-title');
  txt(g,262,659,'lncRNA',4.6,{fill:'#333'},'x-axis-title');
  txt(g,229,356.7,'group',4.6,{anchor:'start'},'legend-title');
  mk(g,'rect',{x:247,y:354.7,width:6.4,height:4.4,fill:'none',stroke:'#35a5d5','stroke-width':.8},'legend-key-normal');
  txt(g,256,356.7,'Normal',4.4,{anchor:'start'},'legend-label-normal');
  mk(g,'rect',{x:273.6,y:354.7,width:6.4,height:4.4,fill:'none',stroke:'#f2a396','stroke-width':.8},'legend-key-tumor');
  txt(g,283,356.7,'Tumor',4.4,{anchor:'start'},'legend-label-tumor');
})();

/* ---------- C coefficient bars ---------- */
(function(){
  const g=group('coefficient-bar-chart');
  const x=lin(0,.2,320.3,391);
  const rowY=i=>685+18.33*i;
  coefGenes.forEach((n,i)=>{
    const v=coefValues[i],a=x(Math.min(v,0)),b=x(Math.max(v,0));
    mk(g,'rect',{x:a,y:rowY(i)-8.3,width:b-a,height:16.6,fill:v<0?'#008552':'#ff4500'},'bar-'+n.toLowerCase());
    ln(g,200,rowY(i),204,rowY(i),'#444',1,'gene-tick');
    txt(g,195,rowY(i),n,14.6,{anchor:'end',fill:'#4d4d4d'},'gene-label');
  });
  coefTicks.forEach(t=>{
    txt(g,x(t),916,t.toFixed(1),14,{fill:'#4d4d4d'},'x-tick-label');
  });
  txt(g,80,786.7,'Genes',18,{rot:-90,fill:'#111'},'y-axis-title');
  txt(g,323.5,936,'Coefficients',18.7,{fill:'#111'},'x-axis-title');
})();

/* ---------- C pairs matrix ---------- */
(function(){
  const g=group('correlation-pairs-matrix');
  const px=i=>526+41.1*i,py=i=>381.7+41.33*i,S=37;
  pairsGenes.forEach((n,i)=>{
    const top=mk(g,'svg',{x:px(i),y:369.7,width:S,height:12},'top-strip');
    mk(top,'rect',{x:.5,y:.5,width:S-1,height:11,fill:'#d9d9d9',stroke:'#aaa','stroke-width':1},'strip-background');
    txt(top,S/2,6,n,6,{fill:'#222'},'top-strip-label');
    const right=mk(g,'svg',{x:1015,y:py(i),width:12,height:S},'right-strip');
    mk(right,'rect',{x:.5,y:.5,width:11,height:S-1,fill:'#d9d9d9',stroke:'#aaa','stroke-width':1},'strip-background');
    txt(right,6,S/2,n,6,{fill:'#222',rot:90},'right-strip-label');
  });
  for(let r=0;r<12;r++){
    for(let c=0;c<12;c++){
      const cell=mk(g,'svg',{x:px(c),y:py(r),width:S,height:S},'pairs-cell-'+(r+1)+'-'+(c+1));
      mk(cell,'rect',{x:.5,y:.5,width:S-1,height:S-1,fill:'#fff',stroke:'#adadad','stroke-width':1},'cell-frame');
      if(r===c){
        const pts=pairsDensity[r].map((v,k)=>[S*k/10,S-v*S]);
        mk(cell,'path',{d:smooth(pts),fill:'none',stroke:'#333','stroke-width':.7},'density-curve');
      }else if(r<c){
        txt(cell,S/2,12.7,'Corr:',8,{fill:'#8a8a8a'},'corr-label');
        txt(cell,S/2,24.3,pairsCorr[r][c-r-1],8,{fill:'#8a8a8a'},'corr-value');
      }else{
        const X=lin(pairsRange[c][0],pairsRange[c][1],0,S),Y=lin(pairsRange[r][0],pairsRange[r][1],S,0);
        pairsSamples[c].forEach((v,k)=>{
          mk(cell,'circle',{cx:X(v),cy:Y(pairsSamples[r][k]),r:2.1,fill:'#000'},'scatter-point');
        });
      }
    }
  }
  const dY=lin(0,.4,35.3,2.7);
  for(let i=0;i<12;i++){
    if(i===0){
      densityAxisTicks.forEach(t=>{
        ln(g,526,py(0)+dY(t),524.8,py(0)+dY(t),'#555',.6,'pairs-y-tick');
        txt(g,524,py(0)+dY(t),t.toFixed(1),5.4,{anchor:'end',fill:'#555'},'pairs-y-tick-label');
      });
    }else{
      const Y=lin(pairsRange[i][0],pairsRange[i][1],S,0);
      pairsTicks[i].forEach(t=>{
        ln(g,526,py(i)+Y(t),524.8,py(i)+Y(t),'#555',.6,'pairs-y-tick');
        txt(g,524,py(i)+Y(t),String(t),5.4,{anchor:'end',fill:'#555'},'pairs-y-tick-label');
      });
    }
    const X=lin(pairsRange[i][0],pairsRange[i][1],0,S);
    pairsTicks[i].forEach(t=>{
      ln(g,px(i)+X(t),py(11)+S,px(i)+X(t),py(11)+S+1.2,'#555',.6,'pairs-x-tick');
      txt(g,px(i)+X(t),py(11)+S+4.5,String(t),5.4,{fill:'#555'},'pairs-x-tick-label');
    });
  }
})();

/* ---------- ROC ---------- */
function drawROC(name,cfg,series,aucText){
  const g=group(name);
  const x=lin(0,1,cfg.x0,cfg.x1),y=lin(0,1,cfg.y0,cfg.y1);
  mk(g,'rect',{x:cfg.left,y:cfg.top,width:cfg.right-cfg.left,height:cfg.bottom-cfg.top,fill:'#fff'},'plot-background');
  rocTicks.forEach((t,i)=>{
    ln(g,x(t),cfg.top,x(t),cfg.bottom,'#ececec',.8,'x-gridline');
    ln(g,cfg.left,y(t),cfg.right,y(t),'#ececec',.8,'y-gridline');
    if(i<4){
      ln(g,x(t+.125),cfg.top,x(t+.125),cfg.bottom,'#f5f5f5',.5,'x-minor-gridline');
      ln(g,cfg.left,y(t+.125),cfg.right,y(t+.125),'#f5f5f5',.5,'y-minor-gridline');
    }
  });
  ln(g,x(-.045),y(-.045),x(1.045),y(1.045),'#bdbdbd',1.5,'chance-diagonal','7 6');
  const colors=['#d8392b','#0a80bd','#f78e1e'],names=['roc-curve-1-year','roc-curve-3-years','roc-curve-5-years'];
  series.forEach((s,i)=>{
    mk(g,'path',{d:poly(s.map(q=>[x(q[0]),y(q[1])])),fill:'none',stroke:colors[i],'stroke-width':1.7},names[i]);
  });
  mk(g,'rect',{x:cfg.left,y:cfg.top,width:cfg.right-cfg.left,height:cfg.bottom-cfg.top,fill:'none',stroke:'#a8a8a8','stroke-width':1.2},'plot-frame');
  rocTicks.forEach((t,i)=>{
    txt(g,x(t),cfg.tickY,rocLabels[i],8.3,{weight:'bold',fill:'#111'},'x-tick-label');
    txt(g,cfg.left-3,y(t),rocLabels[i],8.3,{anchor:'end',weight:'bold',fill:'#111'},'y-tick-label');
  });
  aucText.forEach((t,i)=>{
    txt(g,cfg.aucX,cfg.aucY[i],t,10.4,{anchor:'start',fill:colors[i]},'auc-label');
  });
  txt(g,cfg.yLabX,cfg.yLabY,'True positive rate',11.3,{rot:-90,weight:'bold',fill:'#111'},'y-axis-title');
  txt(g,x(.5),cfg.xLabY,'False positive rate',11.8,{weight:'bold',fill:'#111'},'x-axis-title');
}
drawROC('roc-plot-d',{x0:62.6,x1:326.8,y0:1301.7,y1:1032.7,left:49.5,right:339.9,top:1018.3,bottom:1315,tickY:1322.5,aucX:207,aucY:[1234,1261.7,1288.3],yLabX:10,yLabY:1166.7,xLabY:1343},[rocD1,rocD3,rocD5],['AUC at 1 years = 0.696','AUC at 3 years = 0.658','AUC at 5 years = 0.671']);
drawROC('roc-plot-e',{x0:76.5,x1:328.6,y0:1646.7,y1:1391.7,left:64.4,right:340.8,top:1376.7,bottom:1659.3,tickY:1666.7,aucX:214,aucY:[1583.3,1609,1634.3],yLabX:27,yLabY:1518,xLabY:1686.7},[rocE1,rocE3,rocE5],['AUC at 1 years = 0.754','AUC at 3 years = 0.728','AUC at 5 years = 0.764']);
drawROC('roc-plot-f',{x0:79.7,x1:330,y0:1987,y1:1731.7,left:67.5,right:342.6,top:1718.3,bottom:2000,tickY:2006.7,aucX:216.5,aucY:[1923.7,1949.3,1974.7],yLabX:30,yLabY:1859,xLabY:2027},[rocF1,rocF3,rocF5],['AUC at 1 years = 0.667','AUC at 3 years = 0.651','AUC at 5 years = 0.600']);

/* ---------- Kaplan-Meier ---------- */
function drawKM(name,c,d){
  const g=group(name);
  const x=lin(d.times[0],d.times[4],c.x0,c.x1),y=lin(0,1,c.y0,c.y1);
  const curves=[{pts:d.high,cens:d.highCens,col:'#f0141e',n:'high'},{pts:d.low,cens:d.lowCens,col:'#1414f0',n:'low'}];
  if(d.median){
    ln(g,x(0),y(.5),x(d.median[0]),y(.5),'#333',.8,'median-guide-horizontal','2.5 2');
    ln(g,x(d.median[0]),y(.5),x(d.median[0]),y(0),'#333',.8,'median-guide-vertical','2.5 2');
  }
  curves.forEach(s=>{
    let p='M'+x(s.pts[0][0]).toFixed(2)+' '+y(s.pts[0][1]).toFixed(2);
    s.pts.forEach(q=>{p+='H'+x(q[0]).toFixed(2)+'V'+y(q[1]).toFixed(2);});
    mk(g,'path',{d:p,fill:'none',stroke:s.col,'stroke-width':1.5},'survival-curve-'+s.n);
    s.cens.forEach(t=>{
      let v=1;
      s.pts.forEach(q=>{if(q[0]<=t)v=q[1];});
      ln(g,x(t),y(v)-2.2,x(t),y(v)+2.2,s.col,.8,'censor-mark-'+s.n);
    });
  });
  ln(g,c.left,c.top,c.left,c.bottom,'#333',1,'y-axis-line');
  ln(g,c.left,c.bottom,c.right,c.bottom,'#333',1,'x-axis-line');
  kmSurvTicks.forEach((t,i)=>{
    ln(g,c.left-2,y(t),c.left,y(t),'#333',.7,'y-tick');
    txt(g,c.left-3.5,y(t),kmSurvLabels[i],9.5,{anchor:'end'},'y-tick-label');
  });
  d.times.forEach((t,i)=>{
    ln(g,x(t),c.bottom,x(t),c.bottom+2,'#333',.7,'x-tick');
    txt(g,x(t),c.tickY,String(t),9.5,{},'x-tick-label');
    txt(g,x(t),c.rowY[0],d.riskHigh[i],9.5,{},'risk-count-high');
    txt(g,x(t),c.rowY[1],d.riskLow[i],9.5,{},'risk-count-low');
    ln(g,x(t),c.tableBottom,x(t),c.tableBottom+2,'#333',.7,'risk-table-tick');
    txt(g,x(t),c.tableTick,String(t),9.5,{},'risk-table-tick-label');
  });
  txt(g,x(d.times[2]),c.timeY,'Time',11.5,{},'x-axis-title');
  txt(g,x(d.times[2]),c.tableTime,'Time',11.5,{},'risk-table-x-title');
  txt(g,c.labX,y(.5),'Survival probability',10.5,{rot:-90},'y-axis-title');
  txt(g,c.labX,c.tableLabY,'Total risk score',10,{rot:-90},'risk-table-y-title');
  txt(g,c.pX,c.pY,d.pText,10.5,{anchor:'start'},'log-rank-p-value');
  txt(g,c.left,c.narY,'Number at risk',13,{anchor:'start'},'risk-table-title');
  ln(g,c.left,c.tableTop,c.left,c.tableBottom,'#333',1,'risk-table-y-axis');
  ln(g,c.left,c.tableBottom,c.right,c.tableBottom,'#333',1,'risk-table-x-axis');
  txt(g,c.left-4,c.rowY[0]-.5,'high',9,{anchor:'end',fill:'#f0141e'},'risk-row-label-high');
  txt(g,c.left-4,c.rowY[1]-.5,'low',9,{anchor:'end',fill:'#1414f0'},'risk-row-label-low');
  txt(g,c.leg[0],c.legY,'Total risk score',8.2,{anchor:'start'},'legend-title');
  ln(g,c.leg[1],c.legY,c.leg[2],c.legY,'#f0141e',1.4,'legend-key-high');
  ln(g,(c.leg[1]+c.leg[2])/2,c.legY-2,(c.leg[1]+c.leg[2])/2,c.legY+2,'#f0141e',.8,'legend-key-high-mark');
  txt(g,c.leg[3],c.legY,'high',8.2,{anchor:'start'},'legend-label-high');
  ln(g,c.leg[4],c.legY,c.leg[5],c.legY,'#1414f0',1.4,'legend-key-low');
  ln(g,(c.leg[4]+c.leg[5])/2,c.legY-2,(c.leg[4]+c.leg[5])/2,c.legY+2,'#1414f0',.8,'legend-key-low-mark');
  txt(g,c.leg[6],c.legY,'low',8.2,{anchor:'start'},'legend-label-low');
}
drawKM('survival-plot-d',{x0:421.8,x1:685.6,y0:1218.7,y1:1053,left:408.3,right:699,top:1045,bottom:1226.3,tickY:1235.5,timeY:1246.7,narY:1267,rowY:[1287.3,1301.7],tableTop:1278,tableBottom:1310,tableTick:1317.7,tableTime:1331,labX:377,tableLabY:1300,pX:426,pY:1186,legY:1024,leg:[492,551,563,567,587,599,604]},{times:kmDTimes,high:kmDHigh,low:kmDLow,highCens:kmDHighCens,lowCens:kmDLowCens,riskHigh:kmDRiskHigh,riskLow:kmDRiskLow,pText:'p < 0.0001'});
drawKM('survival-plot-e',{x0:397.5,x1:653.2,y0:1570.3,y1:1410,left:385,right:666,top:1402,bottom:1578,tickY:1586,timeY:1597.7,narY:1617,rowY:[1637,1650.7],tableTop:1628,tableBottom:1658.7,tableTick:1666.7,tableTime:1678.3,labX:354.7,tableLabY:1643,pX:402,pY:1539,legY:1382,leg:[466,523.5,534,539,558,569,574]},{times:kmETimes,high:kmEHigh,low:kmELow,highCens:kmEHighCens,lowCens:kmELowCens,riskHigh:kmERiskHigh,riskLow:kmERiskLow,pText:'p < 0.0001',median:kmEMedian});
drawKM('survival-plot-f',{x0:401.6,x1:656.4,y0:1909.3,y1:1749.3,left:389,right:669,top:1741.7,bottom:1917,tickY:1925,timeY:1936.7,narY:1956.3,rowY:[1975.7,1989.7],tableTop:1967,tableBottom:1997.3,tableTick:2005.3,tableTime:2017,labX:358.8,tableLabY:1982,pX:406.5,pY:1878.3,legY:1721.7,leg:[470,526.7,538,542.5,562,572.6,578]},{times:kmFTimes,high:kmFHigh,low:kmFLow,highCens:kmFHighCens,lowCens:kmFLowCens,riskHigh:kmFRiskHigh,riskLow:kmFRiskLow,pText:'p = 0.0031'});

/* ---------- Density ---------- */
function drawDensity(name,c,d){
  const g=group(name);
  const x=lin(d.xt[0],d.xt[d.xt.length-1],c.x0,c.x1),y=lin(d.yt[0],d.yt[d.yt.length-1],c.y0,c.y1);
  const W=c.right-c.left,H=c.bottom-c.top;
  mk(g,'rect',{x:c.left,y:c.top,width:W,height:H,fill:'#ebebeb'},'plot-panel');
  const xstep=d.xt[1]-d.xt[0],ystep=d.yt[1]-d.yt[0];
  for(let v=d.xt[0]-xstep/2;x(v)<c.right;v+=xstep){
    if(x(v)>c.left)ln(g,x(v),c.top,x(v),c.bottom,'#f6f6f6',.5,'x-minor-gridline');
  }
  for(let v=d.yt[0]+ystep/2;y(v)>c.top;v+=ystep){
    ln(g,c.left,y(v),c.right,y(v),'#f6f6f6',.5,'y-minor-gridline');
  }
  d.xt.forEach(t=>ln(g,x(t),c.top,x(t),c.bottom,'#fff',.9,'x-gridline'));
  d.yt.forEach(t=>ln(g,c.left,y(t),c.right,y(t),'#fff',.9,'y-gridline'));
  const pts=d.curve.map(q=>[x(q[0]),y(q[1])]);
  const line=smooth(pts);
  mk(g,'path',{d:line+'L'+pts[pts.length-1][0].toFixed(2)+' '+y(0).toFixed(2)+'L'+pts[0][0].toFixed(2)+' '+y(0).toFixed(2)+'Z',fill:'#72dbec'},'density-area');
  mk(g,'path',{d:line,fill:'none',stroke:'#333','stroke-width':.85},'density-curve');
  ln(g,x(d.cut[0]),c.top,x(d.cut[0]),c.bottom,'#f51a2a',1.5,'cut-point-line','6 1.6 1.6 1.6');
  txt(g,c.cutTx,c.cutTy,d.cutLabel,6.3,{anchor:'start',fill:'#f51a2a'},'cut-point-label');
  d.xt.forEach((t,i)=>{
    ln(g,x(t),c.bottom,x(t),c.bottom+1.5,'#555',.6,'x-tick');
    txt(g,x(t),c.tickY,d.xl[i],4.6,{fill:'#555'},'x-tick-label');
  });
  d.yt.forEach((t,i)=>{
    ln(g,c.left-1.5,y(t),c.left,y(t),'#555',.6,'y-tick');
    txt(g,c.left-2.5,y(t),d.yl[i],4.6,{anchor:'end',fill:'#555'},'y-tick-label');
  });
  txt(g,(c.left+c.right)/2,c.xLabY,'Total risk score',6.3,{fill:'#111'},'x-axis-title');
  txt(g,c.yLabX,c.yLabY,'y',6.3,{rot:-90,fill:'#111'},'y-axis-title');
}
drawDensity('density-plot-d',{x0:779.3,x1:994.3,y0:1293.7,y1:1023.3,left:731.7,right:1025.7,top:1010,bottom:1306.7,cutTx:876.7,cutTy:1077,tickY:1312,xLabY:1319,yLabX:717.3,yLabY:1158},{xt:densDXTicks,xl:densDXTicks.map(String),yt:densDYTicks,yl:densDYLabels,curve:densD,cut:densDCut,cutLabel:'cut point:-3.273'});
drawDensity('density-plot-e',{x0:734.7,x1:981.7,y0:1656.3,y1:1371.3,left:726,right:1026,top:1365,bottom:1670,cutTx:884,cutTy:1386.7,tickY:1675.7,xLabY:1682.3,yLabX:709.3,yLabY:1517.7},{xt:densEXTicks,xl:densEXTicks.map(v=>v.toFixed(1)),yt:densEYTicks,yl:densEYLabels,curve:densE,cut:densECut,cutLabel:'cut point:1.636'});
drawDensity('density-plot-f',{x0:745.7,x1:935,y0:2011.3,y1:1723.3,left:723.3,right:1026,top:1720,bottom:2025,cutTx:885.3,cutTy:1741.7,tickY:2029,xLabY:2036.7,yLabX:709.3,yLabY:1872},{xt:densFXTicks,xl:densFXTicks.map(String),yt:densFYTicks,yl:densFYLabels,curve:densF,cut:densFCut,cutLabel:'cut point:-0.56'});
</script>
</body>
</html>
